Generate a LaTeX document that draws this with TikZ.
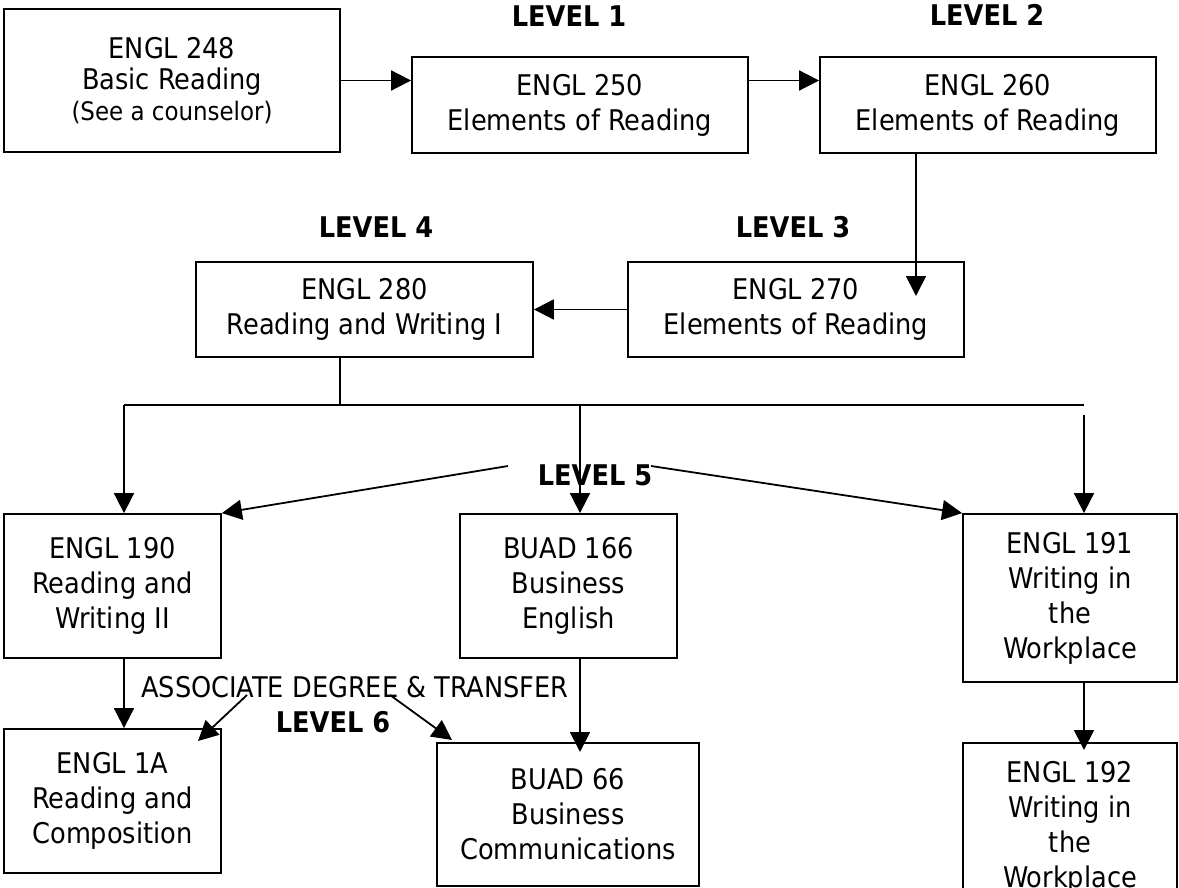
\documentclass[tikz,border=0pt]{standalone}
\usepackage{fontspec}
\setmainfont{DejaVu Sans Condensed}
\usetikzlibrary{arrows.meta}

\begin{document}
\begin{tikzpicture}[x=1pt, y=-1pt, line width=1.8pt,
    >={Triangle[length=20pt, width=20pt]},
    course/.style={draw, rectangle, align=center, inner sep=0pt,
        font=\fontsize{28.5}{35}\selectfont},
    level/.style={inner sep=0pt, font=\fontsize{28.5}{35}\selectfont\bfseries}]
    \useasboundingbox (0,0) rectangle (1179,888);
    \clip (0,0) rectangle (1179,888);

    %% the boxes, placed at their centres
    \node (e248) [course, minimum width=336pt, minimum height=143pt,
        font=\fontsize{28.5}{31}\selectfont] at (172,80.5)
        {ENGL 248\\Basic Reading\\{\fontsize{25.5}{31}\selectfont (See a counselor)}};
    \node (e250) [course, minimum width=336pt, minimum height=96pt] at (580,105) {ENGL 250\\Elements of Reading};
    \node (e260) [course, minimum width=336pt, minimum height=96pt] at (988,105) {ENGL 260\\Elements of Reading};
    \node (e270) [course, minimum width=336pt, minimum height=95pt] at (796,309.5) {ENGL 270\\Elements of Reading};
    \node (e280) [course, minimum width=337pt, minimum height=95pt] at (364.5,309.5) {ENGL 280\\Reading and Writing I};

    \node (e190) [course, minimum width=217pt, minimum height=144pt] at (112.5,586) {ENGL 190\\Reading and\\Writing II};
    \node (b166) [course, minimum width=217pt, minimum height=144pt] at (568.5,586) {BUAD 166\\Business\\English};
    \node (e191) [course, minimum width=214pt, minimum height=168pt] at (1070,598) {ENGL 191\\Writing in\\the\\Workplace};

    \node (e1a) [course, minimum width=217pt, minimum height=144pt] at (112.5,801) {ENGL 1A\\Reading and\\Composition};
    \node (b66) [course, minimum width=262pt, minimum height=143pt] at (568,814.5) {BUAD 66\\Business\\Communications};
    \node (e192) [course, minimum width=214pt, minimum height=168pt] at (1070,827) {ENGL 192\\Writing in\\the\\Workplace};

    %% level labels
    \node (lev1) [level] at (569,16) {LEVEL 1};
    \node (lev2) [level] at (987,15) {LEVEL 2};
    \node (lev3) [level] at (793,227) {LEVEL 3};
    \node (lev4) [level] at (376,227) {LEVEL 4};
    \node (lev5) [level] at (595,475) {LEVEL 5};
    \node (lev6) [level] at (333,722) {LEVEL 6};
    \node (assoc) [inner sep=0pt, font=\fontsize{28.5}{35}\selectfont] at (355,687) {ASSOCIATE DEGREE \& TRANSFER};

    %% loose ends of the connectors
    \coordinate (d3) at (916,296);
    \coordinate (split) at (340,405);
    \coordinate (bl) at (124,405);
    \coordinate (bm) at (580,405);
    \coordinate (br) at (1084,405);
    \coordinate (rt) at (1084,415);
    \coordinate (l5w) at (508,466);
    \coordinate (l5e) at (651,466);
    \coordinate (a1) at (247,695);
    \coordinate (a1t) at (198,741);
    \coordinate (a2) at (390,695);
    \coordinate (a2t) at (452,740);
    \coordinate (b66t) at (580,752);
    \coordinate (e192t) at (1084,750);

    \draw [->] (e248.east) -- (e248.east -| e250.west);
    \draw [->] (e250.east |- e248.east) -- (e260.west |- e248.east);
    \draw [->] (e260.south -| d3) -- (d3);
    \draw [->] (e270.west) -- (e280.east);

    \draw (e280.south -| split) -- (split);
    \draw (bl) -- (br);
    \draw [->] (bl) -- (bl |- e190.north);
    \draw [->] (bm) -- (bm |- b166.north);
    \draw [->] (rt) -- (rt |- e191.north);
    \draw [->] (l5w) -- (e190.north east);
    \draw [->] (l5e) -- (e191.north west);

    \draw [->] (bl |- e190.south) -- (bl |- e1a.north);
    \draw [->] (a1) -- (a1t);
    \draw [->] (a2) -- (a2t);
    \draw [->] (bm |- b166.south) -- (b66t);
    \draw [->] (rt |- e191.south) -- (e192t);

\end{tikzpicture}
\end{document}
